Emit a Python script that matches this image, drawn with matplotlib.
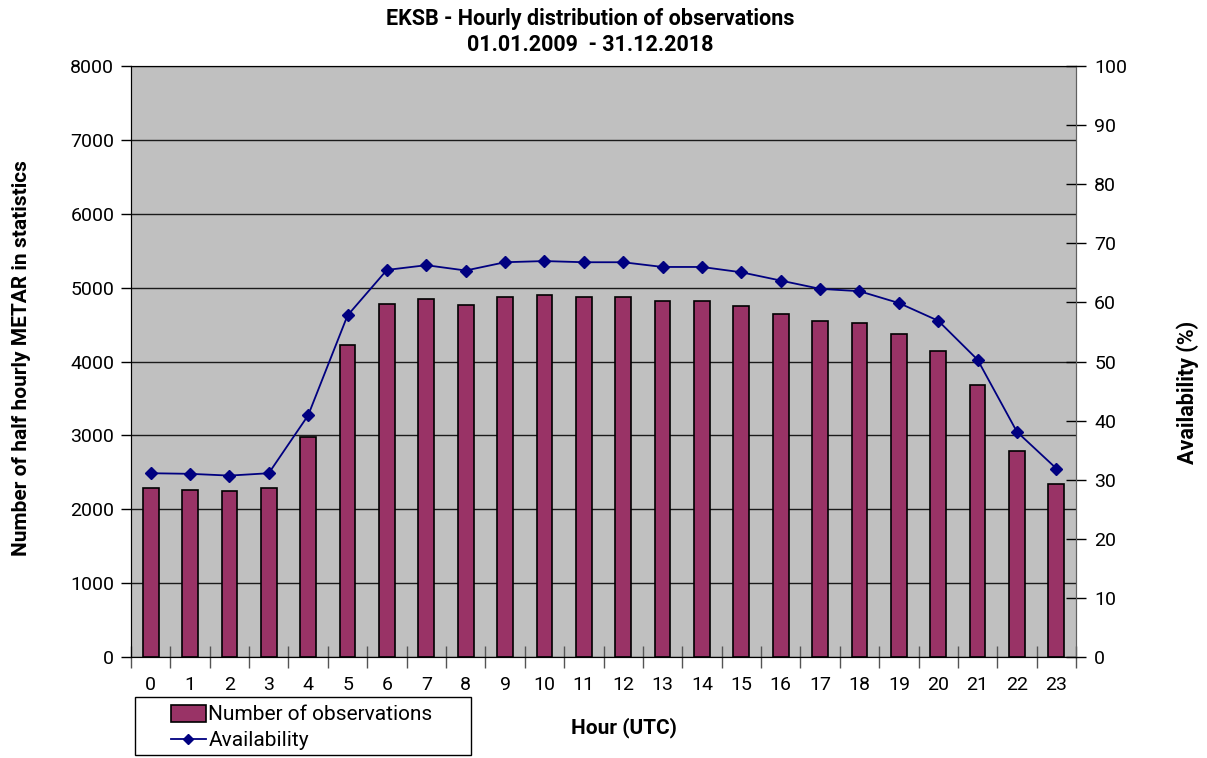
import matplotlib
matplotlib.use("Agg")
import matplotlib.pyplot as plt
import numpy as np
from matplotlib.lines import Line2D
from matplotlib.patches import Patch, Rectangle

plt.rcParams['font.family'] = ['Roboto', 'DejaVu Sans']

hours = list(range(24))
observations = [2283, 2265, 2247, 2283, 2982, 4219, 4782, 4841, 4769, 4873, 4896, 4873,
                4873, 4819, 4819, 4747, 4643, 4552, 4516, 4368, 4146, 3677, 2788, 2337]
availability = [31.1, 31.0, 30.7, 31.1, 40.9, 57.8, 65.5, 66.3, 65.4, 66.8, 67.0, 66.8,
                66.8, 66.0, 66.0, 65.1, 63.7, 62.3, 61.9, 59.9, 56.9, 50.3, 38.1, 31.9]

fig = plt.figure(figsize=(12.07, 7.58), dpi=100)
ax = fig.add_axes([0.1085, 0.1332, 0.783, 0.7797])
ax.set_facecolor('#C0C0C0')

x = np.arange(len(hours))
ax.bar(x, observations, width=0.4, color='#993366', edgecolor='black', linewidth=1.2, zorder=3)
ax.set_xlim(-0.5, 23.5)
ax.set_ylim(0, 8000)
ax.set_yticks(range(0, 8001, 1000))
ax.yaxis.grid(True, color='#1a1a1a', linewidth=1)
ax.set_axisbelow(True)
ax.tick_params(axis='y', labelsize=14, length=7, width=1, pad=5)

# boundaries between hours carry the tick marks, labels sit in the middle
ax.set_xticks(np.arange(-0.5, 24, 1))
ax.set_xticklabels([])
ax.tick_params(axis='x', which='major', direction='inout', length=16, width=1, color='#555555')
ax.set_xticks(x, minor=True)
ax.set_xticklabels([str(h) for h in hours], minor=True)
ax.tick_params(axis='x', which='minor', length=0, labelsize=14, pad=14)

for side in ['top', 'right']:
    ax.spines[side].set_color('#606060')
ax.spines['left'].set_color('#333333')
ax.spines['bottom'].set_color('#606060')

ax2 = ax.twinx()
ax2.plot(x, availability, color='#000080', linewidth=1.3, marker='D', markersize=6.5, zorder=4)
ax2.set_ylim(0, 100)
ax2.set_yticks(range(0, 101, 10))
ax2.tick_params(axis='y', labelsize=14, direction='inout', length=14, width=1, pad=6)
ax2.spines['right'].set_color('#606060')

ax.set_ylabel('Number of half hourly METAR in statistics', fontsize=15, fontweight='bold',
              va='center')
ax.yaxis.set_label_coords(-0.1153, 0.506)
ax2.set_ylabel('Availability (%)', fontsize=15.5, fontweight='bold', va='center')
ax2.yaxis.set_label_coords(1.1185, 0.448)
ax.set_xlabel('Hour (UTC)', fontsize=15, fontweight='bold', va='center')
ax.xaxis.set_label_coords(0.522, -0.120)

fig.text(0.489, 0.989, 'EKSB - Hourly distribution of observations\n01.01.2009  - 31.12.2018',
         ha='center', va='top', fontsize=15.5, fontweight='bold', linespacing=1.2)

handles = [Patch(facecolor='#993366', edgecolor='black', linewidth=1.2),
           Line2D([], [], color='#000080', marker='D', markersize=5, linewidth=1.3)]
fig.legend(handles, ['Number of observations', 'Availability'], loc='lower left',
           bbox_to_anchor=(0.1415, 0.01), fontsize=15, frameon=False,
           borderpad=0, handlelength=1.7, handleheight=0.9,
           handletextpad=0.1, labelspacing=0.3, borderaxespad=0)
fig.add_artist(Rectangle((135 / 1207, 3 / 758), 336 / 1207, 58 / 758, transform=fig.transFigure,
                         facecolor='none', edgecolor='black', linewidth=1))

fig.savefig('out.png', dpi=100)
